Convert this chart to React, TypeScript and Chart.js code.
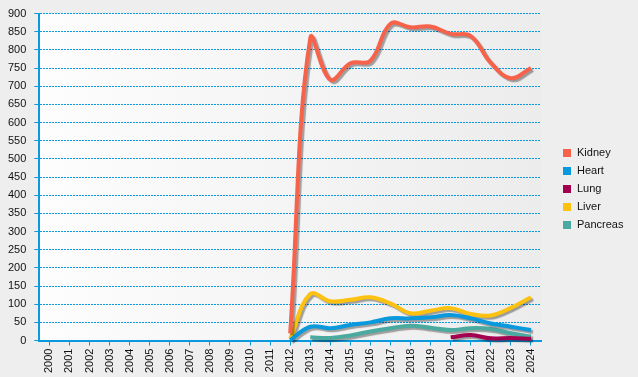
import React, { useEffect, useRef } from "react";
import { Chart, registerables } from "chart.js";

Chart.register(...registerables);

const years: string[] = [
  "2000", "2001", "2002", "2003", "2004", "2005", "2006", "2007", "2008", "2009",
  "2010", "2011", "2012", "2013", "2014", "2015", "2016", "2017", "2018", "2019",
  "2020", "2021", "2022", "2023", "2024",
];

const N = null;
const kidney: (number | null)[] = [N, N, N, N, N, N, N, N, N, N, N, N, 20, 832, 718, 763, 770, 872, 862, 864, 844, 838, 764, 722, 750];
const heart: (number | null)[] = [N, N, N, N, N, N, N, N, N, N, N, N, 1, 38, 34, 43, 50, 61, 61, 64, 70, 61, 47, 38, 29];
const lung: (number | null)[] = [N, N, N, N, N, N, N, N, N, N, N, N, N, N, N, N, N, N, N, N, 9, 15, 6, 7, 5];
const liver: (number | null)[] = [N, N, N, N, N, N, N, N, N, N, N, N, 5, 128, 108, 112, 119, 102, 75, 82, 89, 73, 69, 90, 119];
const pancreas: (number | null)[] = [N, N, N, N, N, N, N, N, N, N, N, N, N, 9, 7, 14, 25, 34, 41, 35, 29, 34, 32, 20, 11];

const seriesNames = ["Kidney", "Heart", "Lung", "Liver", "Pancreas"];
const seriesColors = ["#f7624b", "#0a99dc", "#a3004f", "#fdc10f", "#4aaaa0"];

const FONT = "'Liberation Sans', Arial, sans-serif";
const BLUE = "#0a99dc";

const bgPlugin = {
  id: "bgPlugin",
  beforeDraw(chart: any) {
    const { ctx, chartArea } = chart;
    ctx.save();
    ctx.fillStyle = "#eeeeee";
    ctx.fillRect(0, 0, chart.width, chart.height);
    const g = ctx.createLinearGradient(chartArea.left, 0, chartArea.right, 0);
    g.addColorStop(0, "#fdfdfd");
    g.addColorStop(1, "#ececec");
    ctx.fillStyle = g;
    ctx.fillRect(chartArea.left, chartArea.top, chartArea.right - chartArea.left, chartArea.bottom - chartArea.top);
    ctx.restore();
  },
};

const shadowPlugin = {
  id: "shadowPlugin",
  beforeDatasetDraw(chart: any) {
    const ctx = chart.ctx;
    ctx.save();
    ctx.shadowColor = "rgba(0,0,0,0.35)";
    ctx.shadowOffsetX = 2;
    ctx.shadowOffsetY = 2;
    ctx.shadowBlur = 1;
  },
  afterDatasetDraw(chart: any) {
    chart.ctx.restore();
  },
};

const legendPlugin = {
  id: "customLegend",
  afterDraw(chart: any) {
    const { ctx, chartArea } = chart;
    const ds = chart.data.datasets;
    const spacing = 18;
    const x = chartArea.right + 22;
    const startY = chart.height / 2 - ((ds.length - 1) * spacing) / 2;
    ctx.save();
    ctx.font = `11px ${FONT}`;
    ctx.textBaseline = "middle";
    ctx.textAlign = "left";
    ds.forEach((d: any, i: number) => {
      const cy = startY + i * spacing;
      ctx.fillStyle = d.borderColor;
      ctx.fillRect(x, Math.round(cy - 4), 8, 8);
      ctx.fillStyle = "#111";
      ctx.fillText(d.label, x + 14, cy);
    });
    ctx.restore();
  },
};

export default function App() {
  const ref = useRef<HTMLCanvasElement | null>(null);
  useEffect(() => {
    if (!ref.current) return;
    const data = [kidney, heart, lung, liver, pancreas];
    const chart = new Chart(ref.current, {
      type: "line",
      data: {
        labels: years,
        datasets: seriesNames.map((name, i) => ({
          label: name,
          data: data[i],
          borderColor: seriesColors[i],
          backgroundColor: seriesColors[i],
          borderWidth: 4,
          pointRadius: 0,
          pointHoverRadius: 0,
          tension: 0.4,
          fill: false,
          spanGaps: false,
          clip: 6,
        })),
      },
      options: {
        responsive: false,
        animation: false,
        events: [],
        layout: { padding: { top: 0, right: 97, bottom: 1, left: 0 } },
        plugins: {
          legend: { display: false },
          tooltip: { enabled: false },
        },
        scales: {
          x: {
            offset: true,
            grid: {
              display: true,
              drawOnChartArea: false,
              drawTicks: true,
              tickLength: 5,
              tickColor: BLUE,
              tickWidth: 1,
              offset: false,
            },
            border: { display: true, color: BLUE, width: 2 },
            ticks: {
              minRotation: 90,
              maxRotation: 90,
              autoSkip: false,
              padding: 3,
              color: "#111",
              font: { family: FONT, size: 11 },
            },
          },
          y: {
            min: 0,
            max: 900,
            ticks: {
              stepSize: 50,
              padding: 8,
              color: "#111",
              font: { family: FONT, size: 11, lineHeight: 1 },
            },
            grid: {
              color: BLUE,
              lineWidth: 1,
              tickBorderDash: [],
              tickLength: 5,
              tickColor: BLUE,
              drawTicks: true,
            },
            border: { display: true, color: BLUE, width: 2, dash: [2, 1] },
          },
        },
      },
      plugins: [bgPlugin, shadowPlugin, legendPlugin],
    });
    return () => chart.destroy();
  }, []);
  return (
    <div style={{ position: "absolute", left: 0, top: 0, width: 638, height: 377, background: "#eeeeee" }}>
      <canvas ref={ref} width={638} height={377} style={{ display: "block" }} />
    </div>
  );
}
